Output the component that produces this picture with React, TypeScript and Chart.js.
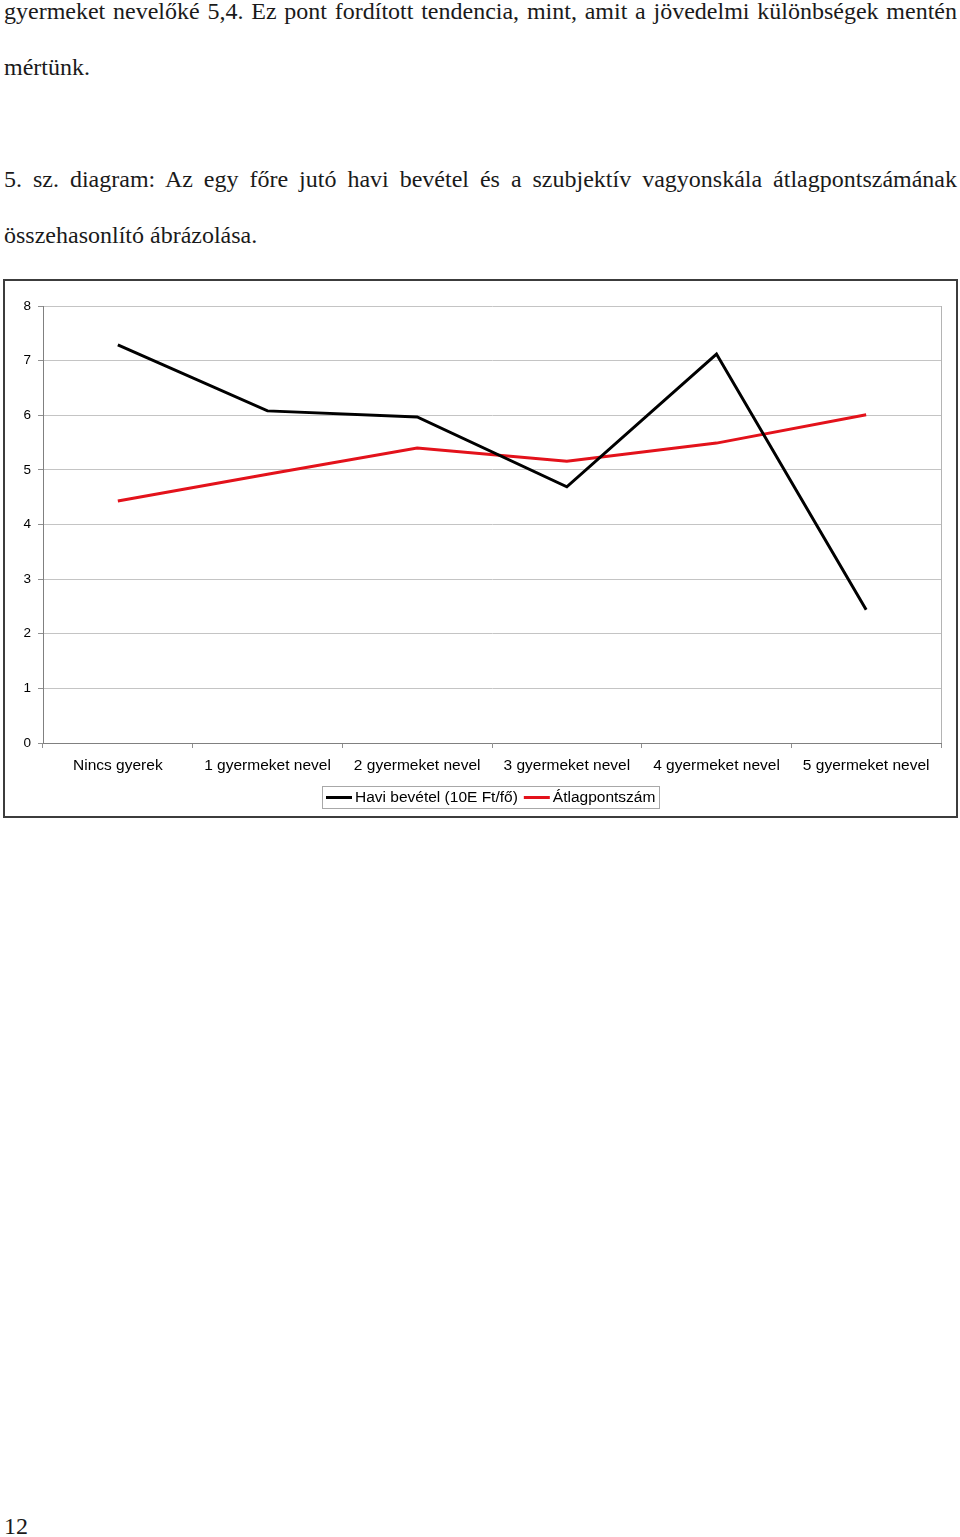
import React, { useEffect, useRef } from "react";
import { Chart, registerables } from "chart.js";

Chart.register(...registerables);

const categories = [
  "Nincs gyerek",
  "1 gyermeket nevel",
  "2 gyermeket nevel",
  "3 gyermeket nevel",
  "4 gyermeket nevel",
  "5 gyermeket nevel",
];
const incomeLabel = "Havi bevétel (10E Ft/fő)";
const incomeValues = [7.29, 6.08, 5.97, 4.69, 7.12, 2.44];
const scoreLabel = "Átlagpontszám";
const scoreValues = [4.43, 4.92, 5.4, 5.16, 5.49, 6.01];
const yTicks = [0, 1, 2, 3, 4, 5, 6, 7, 8];

const SANS = '"Liberation Sans", Arial, sans-serif';
const SERIF = '"Liberation Serif", "Times New Roman", serif';

const frameEdgePlugin = {
  id: "frameEdge",
  beforeDatasetsDraw(chart: any) {
    const { ctx, chartArea: a } = chart;
    ctx.save();
    ctx.strokeStyle = "#b4b4b4";
    ctx.lineWidth = 1;
    ctx.beginPath();
    ctx.moveTo(Math.round(a.right) + 0.5, a.top);
    ctx.lineTo(Math.round(a.right) + 0.5, a.bottom);
    ctx.stroke();
    ctx.restore();
  },
};

const boxLegendPlugin = {
  id: "boxLegend",
  afterDraw(chart: any) {
    const { ctx, chartArea: a } = chart;
    ctx.save();
    ctx.font = "15.5px " + SANS;
    const items = chart.data.datasets.map((ds: any) => ({
      label: ds.label,
      color: ds.borderColor,
      w: ctx.measureText(ds.label).width,
    }));
    const sample = 26;
    const gapText = 3;
    const gapItem = 6;
    const padL = 4;
    const padR = 4;
    let total = padL + padR;
    items.forEach((it: any, i: number) => {
      total += sample + gapText + it.w + (i ? gapItem : 0);
    });
    const cx = (a.left + a.right) / 2;
    const left = Math.round(cx - total / 2) - 1;
    const top = Math.round(a.bottom + 43);
    const h = 22;
    ctx.strokeStyle = "#a8a8a8";
    ctx.lineWidth = 1;
    ctx.strokeRect(left + 0.5, top + 0.5, Math.round(total), h);
    let x = left + padL;
    const cy = top + h / 2 + 0.5;
    items.forEach((it: any, i: number) => {
      if (i) x += gapItem;
      ctx.strokeStyle = it.color;
      ctx.lineWidth = 3;
      ctx.beginPath();
      ctx.moveTo(x, cy);
      ctx.lineTo(x + sample, cy);
      ctx.stroke();
      x += sample + gapText;
      ctx.fillStyle = "#000";
      ctx.textBaseline = "middle";
      ctx.textAlign = "left";
      ctx.fillText(it.label, x, cy);
      x += it.w;
    });
    ctx.restore();
  },
};

function LineChart() {
  const ref = useRef<HTMLCanvasElement>(null);
  useEffect(() => {
    if (!ref.current) return;
    const chart = new Chart(ref.current, {
      type: "line",
      data: {
        labels: categories,
        datasets: [
          {
            label: incomeLabel,
            data: incomeValues,
            borderColor: "#000000",
            backgroundColor: "#000000",
            borderWidth: 3,
            pointRadius: 0,
            tension: 0,
          },
          {
            label: scoreLabel,
            data: scoreValues,
            borderColor: "#e3121b",
            backgroundColor: "#e3121b",
            borderWidth: 3,
            pointRadius: 0,
            tension: 0,
          },
        ],
      },
      options: {
        responsive: false,
        animation: false,
        layout: { padding: { left: 0, right: 15, top: 25, bottom: 38 } },
        plugins: {
          legend: { display: false },
          tooltip: { enabled: false },
          title: { display: false },
        },
        scales: {
          x: {
            offset: true,
            grid: {
              display: true,
              drawOnChartArea: false,
              drawTicks: true,
              tickLength: 5,
              offset: true,
              tickColor: "#909090",
            },
            border: { display: true, color: "#808080", width: 1 },
            ticks: {
              color: "#000",
              font: { family: SANS, size: 15.5 },
              padding: 8,
              maxRotation: 0,
              autoSkip: false,
            },
            afterFit(scale: any) {
              scale.height = 35;
            },
          },
          y: {
            min: 0,
            max: 8,
            afterBuildTicks(scale: any) {
              scale.ticks = yTicks.map((v) => ({ value: v }));
            },
            grid: {
              color: "#c4c4c4",
              lineWidth: 1,
              drawTicks: true,
              tickLength: 5,
              tickColor: "#909090",
            },
            border: { display: true, color: "#808080", width: 1 },
            ticks: {
              color: "#000",
              font: { family: SANS, size: 13.5 },
              padding: 7,
            },
            afterFit(scale: any) {
              scale.width = 38;
            },
          },
        },
      },
      plugins: [frameEdgePlugin, boxLegendPlugin],
    });
    return () => chart.destroy();
  }, []);
  return (
    <canvas
      ref={ref}
      width={951}
      height={535}
      style={{ display: "block", width: 951, height: 535 }}
    />
  );
}

const lineBase: React.CSSProperties = {
  position: "absolute",
  left: 4,
  width: 953,
  fontFamily: SERIF,
  fontSize: 24,
  lineHeight: "56px",
  color: "#1a1a1a",
  whiteSpace: "nowrap",
};
const justified: React.CSSProperties = {
  whiteSpace: "normal",
  textAlign: "justify",
  textAlignLast: "justify" as any,
};

export default function App() {
  return (
    <div
      style={{
        position: "absolute",
        left: 0,
        top: 0,
        width: 960,
        height: 1537,
        background: "#fff",
        overflow: "hidden",
      }}
    >
      <div style={{ ...lineBase, ...justified, top: -17 }}>
        gyermeket nevelőké 5,4. Ez pont fordított tendencia, mint, amit a jövedelmi különbségek mentén
      </div>
      <div style={{ ...lineBase, top: 39 }}>mértünk.</div>
      <div style={{ ...lineBase, ...justified, top: 151 }}>
        5. sz. diagram: Az egy főre jutó havi bevétel és a szubjektív vagyonskála átlagpontszámának
      </div>
      <div style={{ ...lineBase, top: 207 }}>összehasonlító ábrázolása.</div>
      <div
        style={{
          position: "absolute",
          left: 3,
          top: 279,
          width: 951,
          height: 535,
          border: "2px solid #3c3c3c",
        }}
      >
        <LineChart />
      </div>
      <div style={{ ...lineBase, top: 1498 }}>12</div>
    </div>
  );
}
